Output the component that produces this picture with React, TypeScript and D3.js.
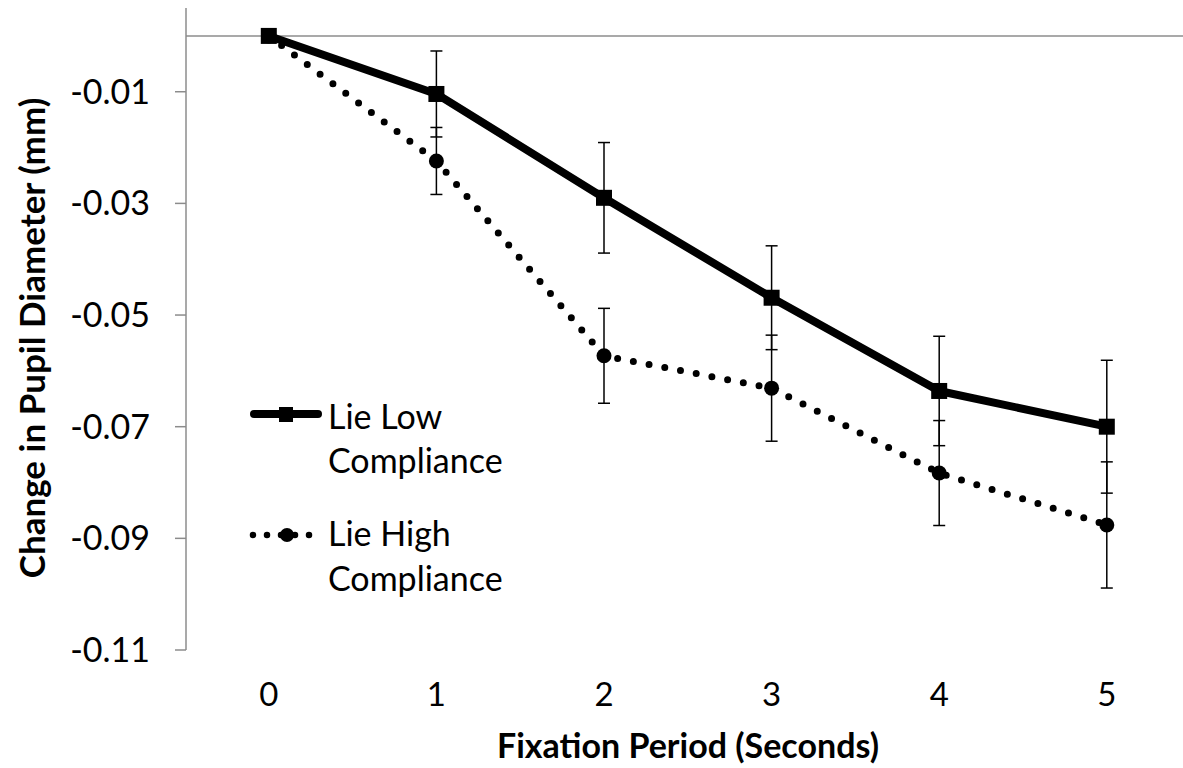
import React from "react";
import * as d3 from "d3";

const categories = ["0", "1", "2", "3", "4", "5"];
const lowMean = [0, -0.0104, -0.029, -0.0469, -0.0636, -0.07];
const lowErr = [0, 0.0077, 0.0099, 0.0093, 0.0098, 0.0119];
const highMean = [0, -0.0224, -0.0573, -0.0631, -0.0783, -0.0876];
const highErr = [0, 0.006, 0.0085, 0.0095, 0.0094, 0.0113];
const yTicks = [-0.11, -0.09, -0.07, -0.05, -0.03, -0.01];
const seriesNames = [["Lie Low", "Compliance"], ["Lie High", "Compliance"]];
const xTitle = "Fixation Period (Seconds)";
const yTitle = "Change in Pupil Diameter (mm)";

const W = 1183;
const H = 768;
const FONT = "Lato, 'Open Sans', sans-serif";

const fmt = (t: number) => (t < 0 ? "-" : "") + Math.abs(t).toFixed(2);

export default function App() {
  const x = d3.scalePoint<string>().domain(categories).range([185, 1190.6]).padding(0.5);
  const y = d3.scaleLinear().domain([-0.11, 0.005]).range([650, 8]);
  const axisColor = "#8c8c8c";

  const lineGen = d3
    .line<number>()
    .x((_, i) => x(categories[i]) as number)
    .y((d) => y(d));

  const errBars = (mean: number[], err: number[], key: string) =>
    mean.map((m, i) => {
      if (!err[i]) return null;
      const cx = x(categories[i]) as number;
      const y1 = y(m + err[i]);
      const y2 = y(m - err[i]);
      return (
        <g key={key + i} stroke="#000" strokeWidth={1.5}>
          <line x1={cx} x2={cx} y1={y1} y2={y2} />
          <line x1={cx - 6} x2={cx + 6} y1={y1} y2={y1} />
          <line x1={cx - 6} x2={cx + 6} y1={y2} y2={y2} />
        </g>
      );
    });

  return (
    <svg
      width={W}
      height={H}
      style={{ position: "absolute", left: 0, top: 0, background: "#fff" }}
      fontFamily={FONT}
    >
      <rect x={0} y={0} width={W} height={H} fill="#fff" />
      {/* y axis */}
      <line x1={186} x2={186} y1={y(0.005)} y2={y(-0.11)} stroke={axisColor} strokeWidth={1.5} />
      {yTicks.map((t) => (
        <g key={t}>
          <line x1={175} x2={186} y1={y(t)} y2={y(t)} stroke={axisColor} strokeWidth={1.5} />
          <text x={150} y={y(t) + 12} textAnchor="end" fontSize={34} fill="#000">
            {fmt(t)}
          </text>
        </g>
      ))}
      {/* zero line */}
      <line x1={186} x2={W} y1={y(0)} y2={y(0)} stroke={axisColor} strokeWidth={1.5} />
      {/* x tick labels */}
      {categories.map((c) => (
        <text key={c} x={x(c)} y={706} textAnchor="middle" fontSize={33} fill="#000">
          {c}
        </text>
      ))}
      {/* titles */}
      <text x={688} y={758} textAnchor="middle" fontSize={34} fontWeight="bold" fill="#000">
        {xTitle}
      </text>
      <text
        transform={`translate(45,338) rotate(-90)`}
        textAnchor="middle"
        fontSize={35}
        fontWeight="bold"
        fill="#000"
      >
        {yTitle}
      </text>

      {/* error bars */}
      {errBars(lowMean, lowErr, "l")}
      {errBars(highMean, highErr, "h")}

      {/* high series: dotted */}
      <path
        d={lineGen(highMean) || ""}
        fill="none"
        stroke="#000"
        strokeWidth={7}
        strokeDasharray="0 16"
        strokeLinecap="round"
      />
      {highMean.map((v, i) => (
        <circle key={"hc" + i} cx={x(categories[i])} cy={y(v)} r={7.5} fill="#000" />
      ))}

      {/* low series: solid */}
      <path d={lineGen(lowMean) || ""} fill="none" stroke="#000" strokeWidth={8} strokeLinejoin="round" />
      {lowMean.map((v, i) => (
        <rect
          key={"lr" + i}
          x={(x(categories[i]) as number) - 8}
          y={y(v) - 8}
          width={16}
          height={16}
          fill="#000"
        />
      ))}

      {/* legend */}
      <g>
        <line x1={254} x2={318} y1={414} y2={414} stroke="#000" strokeWidth={8} strokeLinecap="round" />
        <rect x={279} y={407} width={14} height={15} fill="#000" />
        <text x={328} y={429} fontSize={34} fill="#000">{seriesNames[0][0]}</text>
        <text x={328} y={473} fontSize={34} fill="#000">{seriesNames[0][1]}</text>

        <line
          x1={253}
          x2={318}
          y1={535}
          y2={535}
          stroke="#000"
          strokeWidth={6.5}
          strokeDasharray="0 14"
          strokeLinecap="round"
        />
        <circle cx={287} cy={535} r={7} fill="#000" />
        <text x={328} y={546} fontSize={34} fill="#000">{seriesNames[1][0]}</text>
        <text x={328} y={591} fontSize={34} fill="#000">{seriesNames[1][1]}</text>
      </g>
    </svg>
  );
}
